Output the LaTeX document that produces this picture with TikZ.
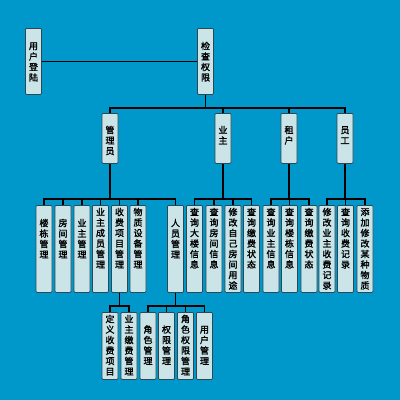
\documentclass[tikz,border=0pt]{standalone}
\usepackage{fontspec}
\newfontfamily\cjk[FakeBold=1.5]{Noto Sans CJK SC}
\definecolor{sky}{RGB}{0,152,202}
\definecolor{boxfill}{RGB}{202,228,232}
\definecolor{boxline}{RGB}{45,72,82}
\begin{document}
\begin{tikzpicture}[x=1pt,y=-1pt,
    box/.style={draw=boxline,fill=boxfill,thick,rounded corners=1pt,inner sep=0pt,
      minimum width=16pt,text width=10pt,align=center,anchor=north,
      font=\cjk\fontsize{9}{10.5}\selectfont},
    ltop/.style={box,text height=21pt,text depth=45pt},
    ltwo/.style={box,text height=20pt,text depth=30pt},
    lthree/.style={box,text height=10pt,text depth=77pt},
    lthreeshort/.style={box,text height=21pt,text depth=66pt},
    lfour/.style={box,text height=10pt,text depth=57pt},
    lfourshort/.style={box,text height=20.5pt,text depth=46.5pt},
    wire/.style={line width=1.6pt,black}]
  \fill[sky] (0,0) rectangle (400,400);
  \useasboundingbox (0,0) rectangle (400,400);
  % top row
  \node[ltop] (login) at (33.5,28) {用\\户\\登\\陆};
  \node[ltop] (check) at (205.5,28) {检\\查\\权\\限};
  % roles
  \node[ltwo] (admin) at (110,113) {管\\理\\员};
  \node[ltwo] (owner) at (223,113) {业\\主};
  \node[ltwo] (tenant) at (289,113) {租\\户};
  \node[ltwo] (staff) at (345,113) {员\\工};
  % admin tasks
  \node[lthreeshort] (a1) at (44,205) {楼\\栋\\管\\理};
  \node[lthreeshort] (a2) at (63,205) {房\\间\\管\\理};
  \node[lthreeshort] (a3) at (82,205) {业\\主\\管\\理};
  \node[lthree] (a4) at (100.5,205) {业\\主\\成\\员\\管\\理};
  \node[lthree] (a5) at (119.5,205) {收\\费\\项\\目\\管\\理};
  \node[lthree] (a6) at (138,205) {物\\质\\设\\备\\管\\理};
  \node[lthreeshort] (a7) at (175.5,205) {人\\员\\管\\理};
  % owner tasks
  \node[lthree] (o1) at (194.5,205) {查\\询\\大\\楼\\信\\息};
  \node[lthree] (o2) at (214,205) {查\\询\\房\\间\\信\\息};
  \node[lthree] (o3) at (233,205) {修\\改\\自\\己\\房\\间\\用\\途};
  \node[lthree] (o4) at (251.5,205) {查\\询\\缴\\费\\状\\态};
  % tenant tasks
  \node[lthree] (t1) at (271,205) {查\\询\\业\\主\\信\\息};
  \node[lthree] (t2) at (289.5,205) {查\\询\\楼\\栋\\信\\息};
  \node[lthree] (t3) at (309,205) {查\\询\\缴\\费\\状\\态};
  % staff tasks
  \node[lthree] (s1) at (327,205) {修\\改\\业\\主\\收\\费\\记\\录};
  \node[lthree] (s2) at (345.5,205) {查\\询\\收\\费\\记\\录};
  \node[lthree] (s3) at (365,205) {添\\加\\修\\改\\某\\种\\物\\质};
  % sub tasks
  \node[lfour] (f1) at (110,312) {定\\义\\收\\费\\项\\目};
  \node[lfour] (f2) at (129,312) {业\\主\\缴\\费\\管\\理};
  \node[lfourshort] (p1) at (148,312) {角\\色\\管\\理};
  \node[lfourshort] (p2) at (166.5,312) {权\\限\\管\\理};
  \node[lfour] (p3) at (185.5,312) {角\\色\\权\\限\\管\\理};
  \node[lfourshort] (p4) at (204.5,312) {用\\户\\管\\理};

  \draw[wire] (login) -- (check);
  \draw[wire] (check.south) -- ++(0,13) coordinate (j0);
  \draw[wire] (admin.north) |- (j0) -| (staff.north);
  \foreach \n in {owner,tenant}
    \draw[wire] (\n.north) -- (\n.north |- j0);

  \draw[wire] (admin.south) -- ++(0,35) coordinate (j1);
  \draw[wire] (a1.north) |- (j1) -| (a7.north);
  \foreach \n in {a2,a3,a4,a5,a6}
    \draw[wire] (\n.north) -- (\n.north |- j1);

  \draw[wire] (owner.south) -- ++(0,35) coordinate (j2);
  \draw[wire] (o1.north) |- (j2) -| (o4.north);
  \foreach \n in {o2,o3}
    \draw[wire] (\n.north) -- (\n.north |- j2);

  \draw[wire] (tenant.south) -- ++(0,35) coordinate (j3);
  \draw[wire] (t1.north) |- (j3) -| (t3.north);
  \draw[wire] (t2.north) -- (t2.north |- j3);

  \draw[wire] (staff.south) -- ++(0,35) coordinate (j4);
  \draw[wire] (s1.north) |- (j4) -| (s3.north);
  \draw[wire] (s2.north) -- (s2.north |- j4);

  \draw[wire] (a5.south) -- ++(0,13) coordinate (j5);
  \draw[wire] (f1.north) |- (j5) -| (f2.north);

  \draw[wire] (a7.south) -- ++(0,13) coordinate (j6);
  \draw[wire] (p1.north) |- (j6) -| (p4.north);
  \foreach \n in {p2,p3}
    \draw[wire] (\n.north) -- (\n.north |- j6);
\end{tikzpicture}
\end{document}
